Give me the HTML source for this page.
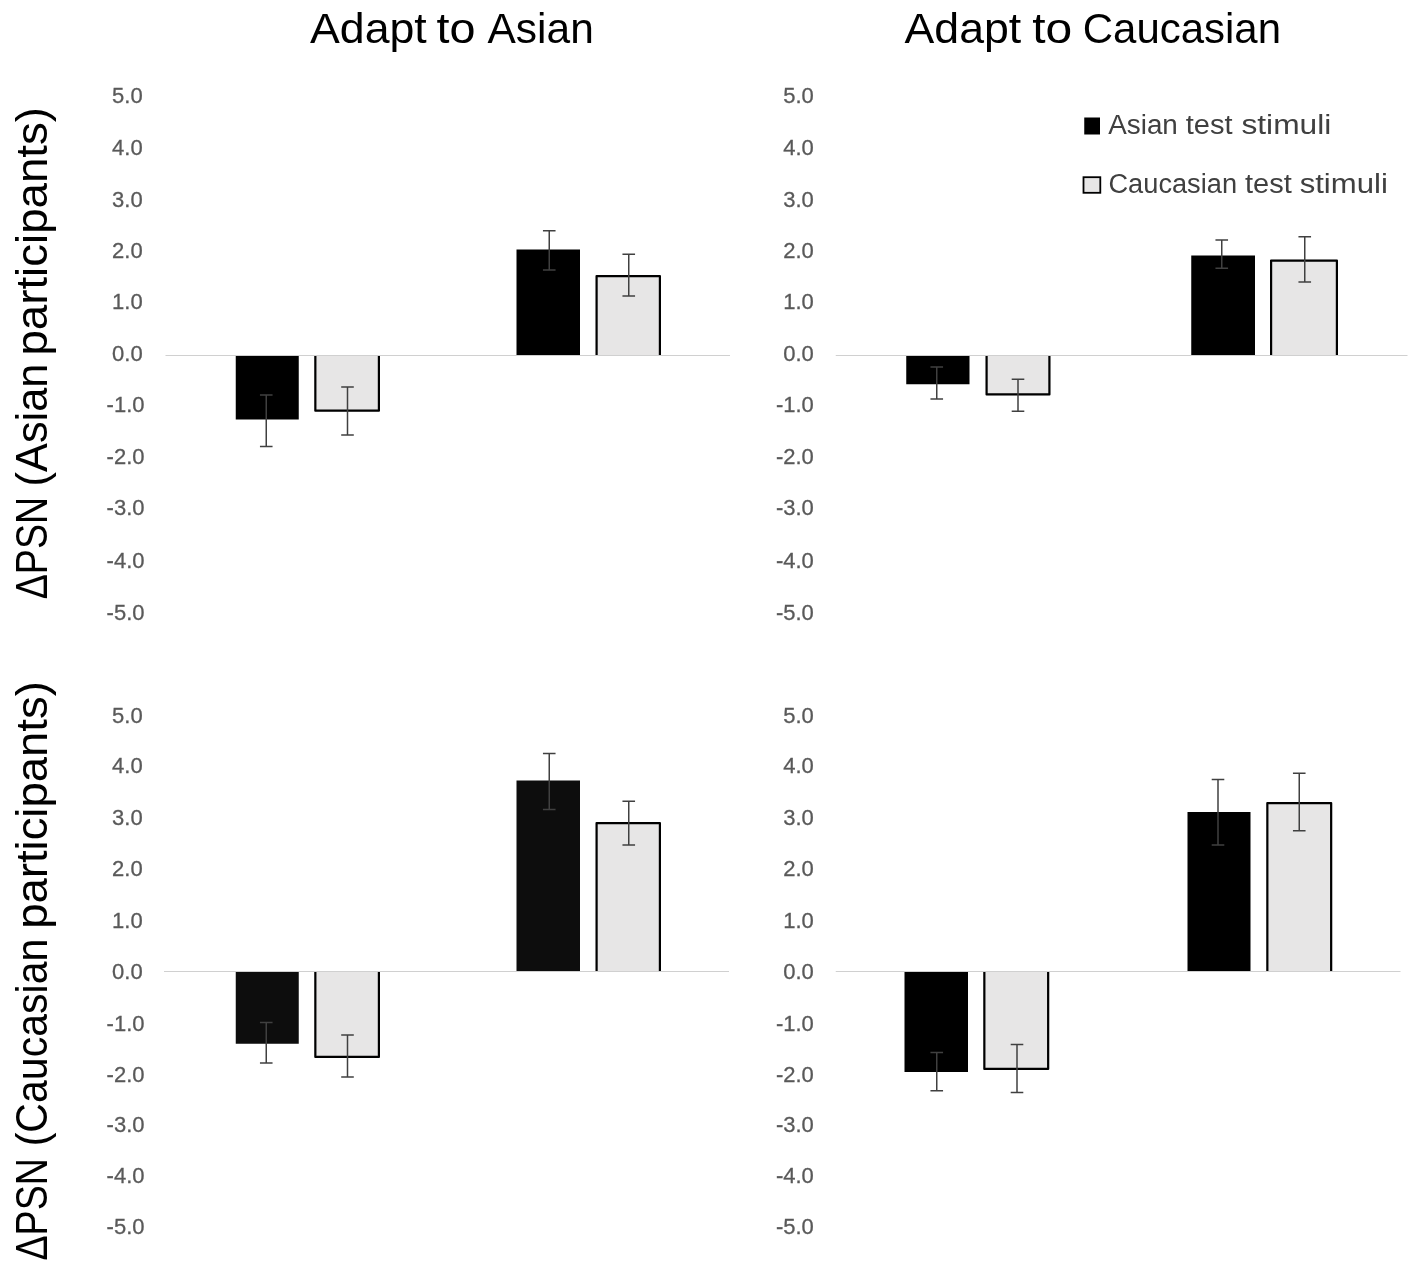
<!DOCTYPE html>
<html lang="en"><head><meta charset="utf-8"><title>Adaptation figure</title>
<style>html,body{margin:0;padding:0;background:#fff}svg{display:block}text{font-family:"Liberation Sans", Arial, sans-serif}</style>
</head><body>
<svg width="1417" height="1272" viewBox="0 0 1417 1272">
<rect x="0" y="0" width="1417" height="1272" fill="#ffffff"/>
<text y="43.00" font-size="42.00" fill="#000"><tspan x="310.00" textLength="116.75" lengthAdjust="spacingAndGlyphs">Adapt</tspan> <tspan x="436.44" textLength="38.96" lengthAdjust="spacingAndGlyphs">to</tspan> <tspan x="487.48" textLength="106.32" lengthAdjust="spacingAndGlyphs">Asian</tspan></text>
<text y="43.00" font-size="42.00" fill="#000"><tspan x="904.60" textLength="116.61" lengthAdjust="spacingAndGlyphs">Adapt</tspan> <tspan x="1032.16" textLength="39.98" lengthAdjust="spacingAndGlyphs">to</tspan> <tspan x="1082.73" textLength="198.35" lengthAdjust="spacingAndGlyphs">Caucasian</tspan></text>
<text y="134.40" font-size="27.00" fill="#404040"><tspan x="1108.24" textLength="69.59" lengthAdjust="spacingAndGlyphs">Asian</tspan> <tspan x="1185.72" textLength="46.81" lengthAdjust="spacingAndGlyphs">test</tspan> <tspan x="1241.44" textLength="89.89" lengthAdjust="spacingAndGlyphs">stimuli</tspan></text>
<text y="193.40" font-size="27.00" fill="#404040"><tspan x="1108.46" textLength="128.59" lengthAdjust="spacingAndGlyphs">Caucasian</tspan> <tspan x="1245.00" textLength="46.76" lengthAdjust="spacingAndGlyphs">test</tspan> <tspan x="1299.68" textLength="88.16" lengthAdjust="spacingAndGlyphs">stimuli</tspan></text>
<text transform="rotate(-90)" y="47.20" font-size="44.00" fill="#000"><tspan x="-599.28" textLength="102.39" lengthAdjust="spacingAndGlyphs">ΔPSN</tspan> <tspan x="-486.38" textLength="122.75" lengthAdjust="spacingAndGlyphs">(Asian</tspan> <tspan x="-355.57" textLength="248.64" lengthAdjust="spacingAndGlyphs">participants)</tspan></text>
<text transform="rotate(-90)" y="47.20" font-size="44.00" fill="#000"><tspan x="-1260.52" textLength="102.40" lengthAdjust="spacingAndGlyphs">ΔPSN</tspan> <tspan x="-1146.32" textLength="207.64" lengthAdjust="spacingAndGlyphs">(Caucasian</tspan> <tspan x="-928.80" textLength="247.60" lengthAdjust="spacingAndGlyphs">participants)</tspan></text>
<text x="142.70" y="103.10" font-size="22.5" fill="#595959" stroke="#595959" stroke-width="0.3" text-anchor="end" textLength="30.60" lengthAdjust="spacingAndGlyphs">5.0</text>
<text x="142.70" y="154.85" font-size="22.5" fill="#595959" stroke="#595959" stroke-width="0.3" text-anchor="end" textLength="30.60" lengthAdjust="spacingAndGlyphs">4.0</text>
<text x="142.70" y="206.60" font-size="22.5" fill="#595959" stroke="#595959" stroke-width="0.3" text-anchor="end" textLength="30.60" lengthAdjust="spacingAndGlyphs">3.0</text>
<text x="142.70" y="258.30" font-size="22.5" fill="#595959" stroke="#595959" stroke-width="0.3" text-anchor="end" textLength="30.60" lengthAdjust="spacingAndGlyphs">2.0</text>
<text x="142.70" y="309.40" font-size="22.5" fill="#595959" stroke="#595959" stroke-width="0.3" text-anchor="end" textLength="30.60" lengthAdjust="spacingAndGlyphs">1.0</text>
<text x="142.70" y="360.60" font-size="22.5" fill="#595959" stroke="#595959" stroke-width="0.3" text-anchor="end" textLength="30.60" lengthAdjust="spacingAndGlyphs">0.0</text>
<text x="144.50" y="412.20" font-size="22.5" fill="#595959" stroke="#595959" stroke-width="0.3" text-anchor="end" textLength="37.90" lengthAdjust="spacingAndGlyphs">-1.0</text>
<text x="144.50" y="463.90" font-size="22.5" fill="#595959" stroke="#595959" stroke-width="0.3" text-anchor="end" textLength="37.90" lengthAdjust="spacingAndGlyphs">-2.0</text>
<text x="144.50" y="515.40" font-size="22.5" fill="#595959" stroke="#595959" stroke-width="0.3" text-anchor="end" textLength="37.90" lengthAdjust="spacingAndGlyphs">-3.0</text>
<text x="144.50" y="567.90" font-size="22.5" fill="#595959" stroke="#595959" stroke-width="0.3" text-anchor="end" textLength="37.90" lengthAdjust="spacingAndGlyphs">-4.0</text>
<text x="144.50" y="620.20" font-size="22.5" fill="#595959" stroke="#595959" stroke-width="0.3" text-anchor="end" textLength="37.90" lengthAdjust="spacingAndGlyphs">-5.0</text>
<text x="813.80" y="103.10" font-size="22.5" fill="#595959" stroke="#595959" stroke-width="0.3" text-anchor="end" textLength="30.60" lengthAdjust="spacingAndGlyphs">5.0</text>
<text x="813.80" y="154.85" font-size="22.5" fill="#595959" stroke="#595959" stroke-width="0.3" text-anchor="end" textLength="30.60" lengthAdjust="spacingAndGlyphs">4.0</text>
<text x="813.80" y="206.60" font-size="22.5" fill="#595959" stroke="#595959" stroke-width="0.3" text-anchor="end" textLength="30.60" lengthAdjust="spacingAndGlyphs">3.0</text>
<text x="813.80" y="258.30" font-size="22.5" fill="#595959" stroke="#595959" stroke-width="0.3" text-anchor="end" textLength="30.60" lengthAdjust="spacingAndGlyphs">2.0</text>
<text x="813.80" y="309.40" font-size="22.5" fill="#595959" stroke="#595959" stroke-width="0.3" text-anchor="end" textLength="30.60" lengthAdjust="spacingAndGlyphs">1.0</text>
<text x="813.80" y="360.60" font-size="22.5" fill="#595959" stroke="#595959" stroke-width="0.3" text-anchor="end" textLength="30.60" lengthAdjust="spacingAndGlyphs">0.0</text>
<text x="813.80" y="412.20" font-size="22.5" fill="#595959" stroke="#595959" stroke-width="0.3" text-anchor="end" textLength="37.90" lengthAdjust="spacingAndGlyphs">-1.0</text>
<text x="813.80" y="463.90" font-size="22.5" fill="#595959" stroke="#595959" stroke-width="0.3" text-anchor="end" textLength="37.90" lengthAdjust="spacingAndGlyphs">-2.0</text>
<text x="813.80" y="515.40" font-size="22.5" fill="#595959" stroke="#595959" stroke-width="0.3" text-anchor="end" textLength="37.90" lengthAdjust="spacingAndGlyphs">-3.0</text>
<text x="813.80" y="567.90" font-size="22.5" fill="#595959" stroke="#595959" stroke-width="0.3" text-anchor="end" textLength="37.90" lengthAdjust="spacingAndGlyphs">-4.0</text>
<text x="813.80" y="620.20" font-size="22.5" fill="#595959" stroke="#595959" stroke-width="0.3" text-anchor="end" textLength="37.90" lengthAdjust="spacingAndGlyphs">-5.0</text>
<text x="142.70" y="723.10" font-size="22.5" fill="#595959" stroke="#595959" stroke-width="0.3" text-anchor="end" textLength="30.60" lengthAdjust="spacingAndGlyphs">5.0</text>
<text x="142.70" y="773.20" font-size="22.5" fill="#595959" stroke="#595959" stroke-width="0.3" text-anchor="end" textLength="30.60" lengthAdjust="spacingAndGlyphs">4.0</text>
<text x="142.70" y="824.60" font-size="22.5" fill="#595959" stroke="#595959" stroke-width="0.3" text-anchor="end" textLength="30.60" lengthAdjust="spacingAndGlyphs">3.0</text>
<text x="142.70" y="875.80" font-size="22.5" fill="#595959" stroke="#595959" stroke-width="0.3" text-anchor="end" textLength="30.60" lengthAdjust="spacingAndGlyphs">2.0</text>
<text x="142.70" y="927.60" font-size="22.5" fill="#595959" stroke="#595959" stroke-width="0.3" text-anchor="end" textLength="30.60" lengthAdjust="spacingAndGlyphs">1.0</text>
<text x="142.70" y="979.10" font-size="22.5" fill="#595959" stroke="#595959" stroke-width="0.3" text-anchor="end" textLength="30.60" lengthAdjust="spacingAndGlyphs">0.0</text>
<text x="144.50" y="1030.80" font-size="22.5" fill="#595959" stroke="#595959" stroke-width="0.3" text-anchor="end" textLength="37.90" lengthAdjust="spacingAndGlyphs">-1.0</text>
<text x="144.50" y="1082.00" font-size="22.5" fill="#595959" stroke="#595959" stroke-width="0.3" text-anchor="end" textLength="37.90" lengthAdjust="spacingAndGlyphs">-2.0</text>
<text x="144.50" y="1132.00" font-size="22.5" fill="#595959" stroke="#595959" stroke-width="0.3" text-anchor="end" textLength="37.90" lengthAdjust="spacingAndGlyphs">-3.0</text>
<text x="144.50" y="1183.40" font-size="22.5" fill="#595959" stroke="#595959" stroke-width="0.3" text-anchor="end" textLength="37.90" lengthAdjust="spacingAndGlyphs">-4.0</text>
<text x="144.50" y="1234.35" font-size="22.5" fill="#595959" stroke="#595959" stroke-width="0.3" text-anchor="end" textLength="37.90" lengthAdjust="spacingAndGlyphs">-5.0</text>
<text x="813.80" y="723.10" font-size="22.5" fill="#595959" stroke="#595959" stroke-width="0.3" text-anchor="end" textLength="30.60" lengthAdjust="spacingAndGlyphs">5.0</text>
<text x="813.80" y="773.20" font-size="22.5" fill="#595959" stroke="#595959" stroke-width="0.3" text-anchor="end" textLength="30.60" lengthAdjust="spacingAndGlyphs">4.0</text>
<text x="813.80" y="824.60" font-size="22.5" fill="#595959" stroke="#595959" stroke-width="0.3" text-anchor="end" textLength="30.60" lengthAdjust="spacingAndGlyphs">3.0</text>
<text x="813.80" y="875.80" font-size="22.5" fill="#595959" stroke="#595959" stroke-width="0.3" text-anchor="end" textLength="30.60" lengthAdjust="spacingAndGlyphs">2.0</text>
<text x="813.80" y="927.60" font-size="22.5" fill="#595959" stroke="#595959" stroke-width="0.3" text-anchor="end" textLength="30.60" lengthAdjust="spacingAndGlyphs">1.0</text>
<text x="813.80" y="979.10" font-size="22.5" fill="#595959" stroke="#595959" stroke-width="0.3" text-anchor="end" textLength="30.60" lengthAdjust="spacingAndGlyphs">0.0</text>
<text x="813.80" y="1030.80" font-size="22.5" fill="#595959" stroke="#595959" stroke-width="0.3" text-anchor="end" textLength="37.90" lengthAdjust="spacingAndGlyphs">-1.0</text>
<text x="813.80" y="1082.00" font-size="22.5" fill="#595959" stroke="#595959" stroke-width="0.3" text-anchor="end" textLength="37.90" lengthAdjust="spacingAndGlyphs">-2.0</text>
<text x="813.80" y="1132.00" font-size="22.5" fill="#595959" stroke="#595959" stroke-width="0.3" text-anchor="end" textLength="37.90" lengthAdjust="spacingAndGlyphs">-3.0</text>
<text x="813.80" y="1183.40" font-size="22.5" fill="#595959" stroke="#595959" stroke-width="0.3" text-anchor="end" textLength="37.90" lengthAdjust="spacingAndGlyphs">-4.0</text>
<text x="813.80" y="1234.35" font-size="22.5" fill="#595959" stroke="#595959" stroke-width="0.3" text-anchor="end" textLength="37.90" lengthAdjust="spacingAndGlyphs">-5.0</text>
<rect x="235.75" y="355.50" width="63.00" height="64.00" fill="#000"/>
<rect x="314.25" y="355.50" width="65.75" height="56.25" fill="#e7e6e6"/>
<path d="M315.35 355.50 L315.35 410.65 L378.90 410.65 L378.90 355.50" fill="none" stroke="#000" stroke-width="2.20" stroke-linejoin="round"/>
<rect x="516.50" y="249.50" width="63.50" height="106.00" fill="#000"/>
<rect x="595.50" y="275.00" width="65.50" height="80.50" fill="#e7e6e6"/>
<path d="M596.60 355.50 L596.60 276.10 L659.90 276.10 L659.90 355.50" fill="none" stroke="#000" stroke-width="2.20" stroke-linejoin="round"/>
<line x1="165.50" y1="355.50" x2="730.00" y2="355.50" stroke="#d0d0d0" stroke-width="1.2"/>
<path d="M259.95 395.00 H272.55 M266.25 395.00 V446.50 M259.95 446.50 H272.55" fill="none" stroke="#404040" stroke-width="1.5"/>
<path d="M341.20 387.00 H353.80 M347.50 387.00 V435.00 M341.20 435.00 H353.80" fill="none" stroke="#404040" stroke-width="1.5"/>
<path d="M542.95 230.75 H555.55 M549.25 230.75 V270.00 M542.95 270.00 H555.55" fill="none" stroke="#404040" stroke-width="1.5"/>
<path d="M622.45 254.25 H635.05 M628.75 254.25 V296.00 M622.45 296.00 H635.05" fill="none" stroke="#404040" stroke-width="1.5"/>
<rect x="906.25" y="355.50" width="63.25" height="28.75" fill="#000"/>
<rect x="985.50" y="355.50" width="65.00" height="40.00" fill="#e7e6e6"/>
<path d="M986.60 355.50 L986.60 394.40 L1049.40 394.40 L1049.40 355.50" fill="none" stroke="#000" stroke-width="2.20" stroke-linejoin="round"/>
<rect x="1191.25" y="255.50" width="63.75" height="100.00" fill="#000"/>
<rect x="1270.00" y="259.50" width="68.00" height="96.00" fill="#e7e6e6"/>
<path d="M1271.10 355.50 L1271.10 260.60 L1336.90 260.60 L1336.90 355.50" fill="none" stroke="#000" stroke-width="2.20" stroke-linejoin="round"/>
<line x1="835.75" y1="355.50" x2="1407.50" y2="355.50" stroke="#d0d0d0" stroke-width="1.2"/>
<path d="M930.45 367.00 H943.05 M936.75 367.00 V399.00 M930.45 399.00 H943.05" fill="none" stroke="#404040" stroke-width="1.5"/>
<path d="M1011.70 379.25 H1024.30 M1018.00 379.25 V411.25 M1011.70 411.25 H1024.30" fill="none" stroke="#404040" stroke-width="1.5"/>
<path d="M1215.45 240.00 H1228.05 M1221.75 240.00 V268.25 M1215.45 268.25 H1228.05" fill="none" stroke="#404040" stroke-width="1.5"/>
<path d="M1298.45 236.75 H1311.05 M1304.75 236.75 V282.00 M1298.45 282.00 H1311.05" fill="none" stroke="#404040" stroke-width="1.5"/>
<rect x="235.75" y="971.50" width="63.00" height="72.25" fill="#0d0d0d"/>
<rect x="314.25" y="971.50" width="65.75" height="86.50" fill="#e7e6e6"/>
<path d="M315.35 971.50 L315.35 1056.90 L378.90 1056.90 L378.90 971.50" fill="none" stroke="#000" stroke-width="2.20" stroke-linejoin="round"/>
<rect x="516.50" y="780.50" width="63.50" height="191.00" fill="#0d0d0d"/>
<rect x="595.50" y="822.00" width="65.50" height="149.50" fill="#e7e6e6"/>
<path d="M596.60 971.50 L596.60 823.10 L659.90 823.10 L659.90 971.50" fill="none" stroke="#000" stroke-width="2.20" stroke-linejoin="round"/>
<line x1="164.00" y1="971.50" x2="729.00" y2="971.50" stroke="#d0d0d0" stroke-width="1.2"/>
<path d="M259.95 1022.50 H272.55 M266.25 1022.50 V1063.00 M259.95 1063.00 H272.55" fill="none" stroke="#404040" stroke-width="1.5"/>
<path d="M341.20 1035.00 H353.80 M347.50 1035.00 V1077.00 M341.20 1077.00 H353.80" fill="none" stroke="#404040" stroke-width="1.5"/>
<path d="M542.95 753.50 H555.55 M549.25 753.50 V809.50 M542.95 809.50 H555.55" fill="none" stroke="#404040" stroke-width="1.5"/>
<path d="M622.45 801.25 H635.05 M628.75 801.25 V845.00 M622.45 845.00 H635.05" fill="none" stroke="#404040" stroke-width="1.5"/>
<rect x="904.50" y="971.50" width="63.50" height="100.50" fill="#000"/>
<rect x="983.25" y="971.50" width="66.00" height="98.50" fill="#e7e6e6"/>
<path d="M984.35 971.50 L984.35 1068.90 L1048.15 1068.90 L1048.15 971.50" fill="none" stroke="#000" stroke-width="2.20" stroke-linejoin="round"/>
<rect x="1187.50" y="812.00" width="63.00" height="159.50" fill="#000"/>
<rect x="1266.25" y="802.00" width="66.00" height="169.50" fill="#e7e6e6"/>
<path d="M1267.35 971.50 L1267.35 803.10 L1331.15 803.10 L1331.15 971.50" fill="none" stroke="#000" stroke-width="2.20" stroke-linejoin="round"/>
<line x1="835.75" y1="971.50" x2="1400.50" y2="971.50" stroke="#d0d0d0" stroke-width="1.2"/>
<path d="M930.45 1052.50 H943.05 M936.75 1052.50 V1090.75 M930.45 1090.75 H943.05" fill="none" stroke="#404040" stroke-width="1.5"/>
<path d="M1010.70 1044.50 H1023.30 M1017.00 1044.50 V1092.50 M1010.70 1092.50 H1023.30" fill="none" stroke="#404040" stroke-width="1.5"/>
<path d="M1211.70 779.50 H1224.30 M1218.00 779.50 V845.00 M1211.70 845.00 H1224.30" fill="none" stroke="#404040" stroke-width="1.5"/>
<path d="M1292.95 773.25 H1305.55 M1299.25 773.25 V830.75 M1292.95 830.75 H1305.55" fill="none" stroke="#404040" stroke-width="1.5"/>
<rect x="1084.25" y="117.5" width="15.75" height="17" fill="#000"/>
<rect x="1083.5" y="177.2" width="16.8" height="15.6" fill="#e7e6e6" stroke="#000" stroke-width="1.8"/>
</svg>
</body></html>
